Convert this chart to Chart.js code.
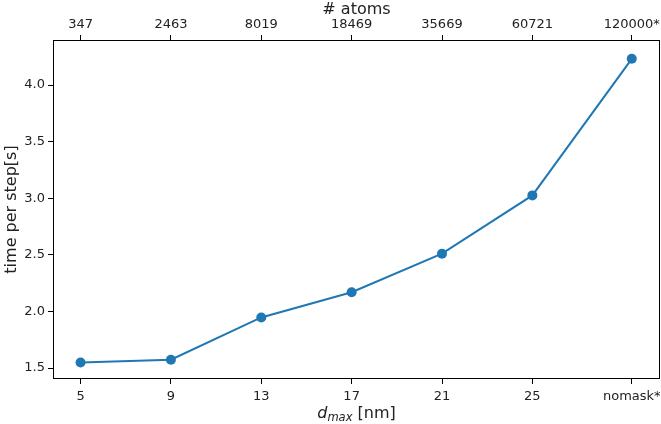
<!DOCTYPE html>
<html>
<head>
<meta charset="utf-8">
<script src="https://cdn.jsdelivr.net/npm/chart.js@4"></script>
<style>
  html, body { margin: 0; padding: 0; background: #fff; }
  #wrap { width: 661px; height: 424px; }
</style>
</head>
<body>
<div id="wrap"><canvas id="chart" width="661" height="424"></canvas></div>
<script>
// d_max values (nomask sits where matplotlib put it, just past 25)
var dmax = [5, 9, 13, 17, 21, 25, 29.4];
var dmaxLabels = ['5', '9', '13', '17', '21', '25', 'nomask*'];
var atomLabels = ['347', '2463', '8019', '18469', '35669', '60721', '120000*'];
var timePerStep = [1.549, 1.573, 1.947, 2.17, 2.51, 3.025, 4.232];
var yTicks = [1.5, 2.0, 2.5, 3.0, 3.5, 4.0];

var FONT = 'DejaVu Sans';
var BLUE = '#1f77b4';

var points = [];
for (var i in dmax) {
  points.push({ x: dmax[i], y: timePerStep[i] });
}

function xTicks(axis) {
  axis.ticks = dmax.map(function(v) { return { value: v }; });
}

function labelFor(list) {
  return function(value) {
    var idx = dmax.indexOf(value);
    return idx >= 0 ? list[idx] : '';
  };
}

// fixed box sizes so the plot area lands where the original's does
function fixHeight(h) {
  return function(axis) {
    axis.height = h;
    axis.paddingLeft = 0;
    axis.paddingRight = 0;
  };
}

var tickGrid = { drawOnChartArea: false, drawTicks: true, tickLength: 5, color: '#000', lineWidth: 1 };

// frame round the plot + the d_max axis label with its subscript
var framePlugin = {
  id: 'frame',
  afterDraw: function(chart) {
    var ctx = chart.ctx;
    var a = chart.chartArea;
    ctx.save();
    ctx.strokeStyle = '#000';
    ctx.lineWidth = 1;
    ctx.strokeRect(a.left + 0.5, a.top + 0.5, a.right - a.left - 1, a.bottom - a.top - 1);

    var main = 'italic 16px ' + FONT;
    var sub = 'italic 11.5px ' + FONT;
    var rest = '16px ' + FONT;
    ctx.fillStyle = '#222';
    ctx.textBaseline = 'alphabetic';
    ctx.font = main; var w1 = ctx.measureText('d').width;
    ctx.font = sub; var w2 = ctx.measureText('max').width;
    ctx.font = rest; var w3 = ctx.measureText(' [nm]').width;
    var x = (a.left + a.right) / 2 - (w1 + w2 + w3) / 2;
    var y = 418;
    ctx.font = main; ctx.fillText('d', x, y);
    ctx.font = sub; ctx.fillText('max', x + w1, y + 3);
    ctx.font = rest; ctx.fillText(' [nm]', x + w1 + w2, y);
    ctx.restore();
  }
};

var ctx = document.getElementById('chart');
var myChart = new Chart(ctx, {
  type: 'line',
  data: {
    datasets: [{
      label: 'time per step',
      data: points,
      borderColor: BLUE,
      backgroundColor: BLUE,
      borderWidth: 2,
      pointRadius: 5,
      pointBorderWidth: 0,
      tension: 0
    }]
  },
  options: {
    responsive: false,
    animation: false,
    events: [],
    layout: { autoPadding: false, padding: { left: 0, right: 1, top: 0, bottom: 0 } },
    plugins: { legend: { display: false }, tooltip: { enabled: false } },
    scales: {
      x: {
        type: 'linear',
        position: 'bottom',
        min: 3.78,
        max: 30.65,
        afterBuildTicks: xTicks,
        afterFit: fixHeight(45),
        border: { display: false },
        grid: tickGrid,
        ticks: {
          autoSkip: false, maxRotation: 0, padding: 5,
          color: '#222', font: { family: FONT, size: 13 },
          callback: labelFor(dmaxLabels)
        }
      },
      xTop: {
        type: 'linear',
        position: 'top',
        min: 3.78,
        max: 30.65,
        afterBuildTicks: xTicks,
        afterFit: fixHeight(40),
        border: { display: false },
        grid: tickGrid,
        title: {
          display: true, text: '# atoms', color: '#222',
          font: { family: FONT, size: 16 }, padding: { top: 0, bottom: 0 }
        },
        ticks: {
          autoSkip: false, maxRotation: 0, padding: 3,
          color: '#222', font: { family: FONT, size: 13 },
          callback: labelFor(atomLabels)
        }
      },
      y: {
        min: 1.403,
        max: 4.398,
        afterBuildTicks: function(axis) {
          axis.ticks = yTicks.map(function(v) { return { value: v }; });
        },
        afterFit: function(axis) {
          axis.width = 53;
          axis.paddingTop = 0;
          axis.paddingBottom = 0;
        },
        border: { display: false },
        grid: tickGrid,
        title: {
          display: true, text: 'time per step[s]', color: '#222',
          font: { family: FONT, size: 16 }, padding: { top: 2, bottom: 0 }
        },
        ticks: {
          padding: 3, color: '#222', font: { family: FONT, size: 13 },
          callback: function(v) { return v.toFixed(1); }
        }
      }
    }
  },
  plugins: [framePlugin]
});
</script>
</body>
</html>
